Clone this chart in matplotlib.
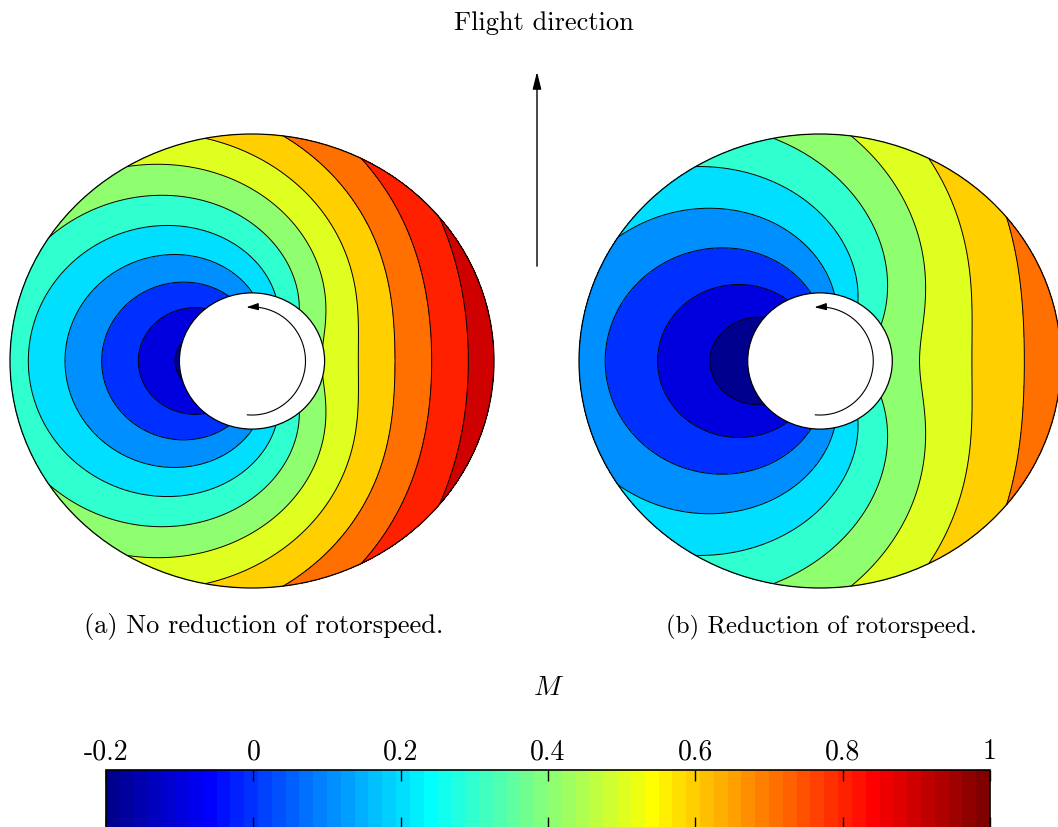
import numpy as np
import matplotlib
matplotlib.use("Agg")
import matplotlib.pyplot as plt
from matplotlib.colors import ListedColormap, Normalize
from matplotlib.patches import Circle, FancyArrowPatch
from matplotlib.cm import ScalarMappable

plt.rcParams['font.family'] = 'cmr10'
plt.rcParams['mathtext.fontset'] = 'cm'
plt.rcParams['axes.unicode_minus'] = False

# rotor cases: Mach number on the disk, M = M_tip*r + M_flight*sin(psi)
captions = ['(a) No reduction of rotorspeed.', '(b) Reduction of rotorspeed.']
tip_mach = [0.66, 0.46]
flight_mach = 0.31
hub_radius = 0.3
levels = [-0.2, -0.1, 0.0, 0.1, 0.2, 0.3, 0.4, 0.5, 0.6, 0.7, 0.8, 0.9, 1.0]
cbar_ticks = [-0.2, 0, 0.2, 0.4, 0.6, 0.8, 1]
cbar_labels = ['-0.2', '0', '0.2', '0.4', '0.6', '0.8', '1']
vmin, vmax = -0.2, 1.0


def matlab_jet(m=64):
    """ jet colormap as matlab builds it """
    n = int(np.ceil(m / 4))
    u = np.concatenate([np.arange(1, n + 1) / n, np.ones(n - 1), np.arange(n, 0, -1) / n])
    g = int(np.ceil(n / 2)) - int(m % 4 == 1) + np.arange(1, len(u) + 1)
    r = g + n
    b = g - n
    J = np.zeros((m, 3))
    for col, idx in enumerate((r, g, b)):
        ok = (idx >= 1) & (idx <= m)
        J[idx[ok] - 1, col] = u[ok]
    return J


jet = matlab_jet(64)
# each band gets the colour of its lower level
band_colors = []
for L in levels[:-1]:
    i = int(np.floor((L - vmin) / (vmax - vmin) * 64 + 1e-9))
    band_colors.append(jet[min(i, 63)])

W, H = 1058, 828
fig = plt.figure(figsize=(W / 100, H / 100), dpi=100)


def px_axes(x0, x1, y0, y1):
    return fig.add_axes([x0 / W, 1 - y1 / H, (x1 - x0) / W, (y1 - y0) / H])


rr = np.linspace(hub_radius, 1, 160)
th = np.linspace(0, 2 * np.pi, 721)
R, TH = np.meshgrid(rr, th)
X = R * np.cos(TH)
Y = R * np.sin(TH)

disk_px = [(10, 494), (579, 1061)]
cap_x = [264, 821]
cap_size = [19, 18]
for (x0, x1), mt, cap, cx, fs in zip(disk_px, tip_mach, captions, cap_x, cap_size):
    ax = px_axes(x0, x1, 135, 589)
    M = mt * R + flight_mach * np.cos(TH)
    ax.contourf(X, Y, M, levels=levels, colors=band_colors)
    ax.contour(X, Y, M, levels=levels, colors='k', linewidths=0.7,
               negative_linestyles='solid')
    ax.add_patch(Circle((0, 0), 1, fill=False, ec='k', lw=0.9, clip_on=False))
    ax.add_patch(Circle((0, 0), hub_radius, fc='white', ec='k', lw=0.9, zorder=3))

    # rotation sense
    a = np.radians(np.linspace(-95, 92, 120))
    ax.plot(0.221 * np.cos(a), 0.238 * np.sin(a), color='k', lw=0.8, zorder=4)
    a0, a1 = np.radians(90), np.radians(96)
    ax.annotate('', xy=(0.221 * np.cos(a1), 0.238 * np.sin(a1)),
                xytext=(0.221 * np.cos(a0), 0.238 * np.sin(a0)),
                arrowprops=dict(arrowstyle='-|>,head_length=0.6,head_width=0.18',
                                color='k', lw=0.8, shrinkA=0, shrinkB=0,
                                mutation_scale=12), zorder=5)
    ax.set_xlim(-1, 1)
    ax.set_ylim(-1, 1)
    ax.axis('off')

    fig.text(cx / W, 1 - 627 / H, cap, ha='center', va='center', fontsize=fs)

# flight direction arrow
fig.add_artist(FancyArrowPatch((537 / W, 1 - 270 / H), (537 / W, 1 - 70 / H),
                               transform=fig.transFigure,
                               arrowstyle='-|>,head_length=0.8,head_width=0.2',
                               mutation_scale=13, color='k', lw=1.0))
fig.text(544 / W, 1 - 23 / H, 'Flight direction', ha='center', va='center', fontsize=19)
fig.text(549 / W, 1 - 688 / H, '$M$', ha='center', va='center', fontsize=20)

# colorbar
cax = px_axes(106, 990, 771, 829)
sm = ScalarMappable(norm=Normalize(vmin, vmax), cmap=ListedColormap(jet))
cb = fig.colorbar(sm, cax=cax, orientation='horizontal')
cb.set_ticks(cbar_ticks, labels=cbar_labels)
cax.xaxis.set_ticks_position('both')
cax.tick_params(axis='x', direction='in', length=8, width=1, labeltop=True,
                labelbottom=False, labelsize=20, pad=4)
cb.outline.set_linewidth(1.2)

fig.savefig('out.png', dpi=100)
